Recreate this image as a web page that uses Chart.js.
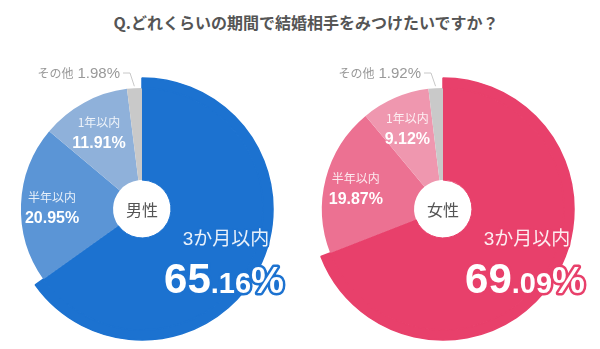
<!DOCTYPE html>
<html>
<head>
<meta charset="utf-8">
<script src="https://cdn.jsdelivr.net/npm/chart.js@4"></script>
<style>
  body { margin: 0; background: #fff; width: 600px; height: 349px; overflow: hidden; position: relative; }
  .title { position: absolute; left: 0; top: 10px; width: 612px; text-align: center; font: bold 16px "Noto Sans CJK JP", sans-serif; color: #555; }
  canvas { position: absolute; top: 49px; }
  #male { left: 0; }
  #female { left: 300px; }
</style>
</head>
<body>
<div class="title">Q.どれくらいの期間で結婚相手をみつけたいですか？</div>
<canvas id="male" width="300" height="300"></canvas>
<canvas id="female" width="300" height="300"></canvas>
<script>
const categories = ['3か月以内', '半年以内', '1年以内', 'その他'];
const maleValues = [65.16, 20.95, 11.91, 1.98];
const femaleValues = [69.09, 19.87, 9.12, 1.92];
const maleColors = ['#1C72D0', '#5B95D6', '#8FB1DA', '#C9C9C9'];
const femaleColors = ['#E8406B', '#EC7192', '#EF97AF', '#C9C9C9'];

const JP = '"Noto Sans CJK JP", sans-serif';
const NUM = '"Liberation Sans", "Noto Sans CJK JP", sans-serif';

// labels drawn on top of the slices
const labelPlugin = {
  id: 'sliceLabels',
  afterDatasetsDraw(chart, args, opts) {
    const ctx = chart.ctx;
    const arcs = chart.getDatasetMeta(1).data;
    const values = chart.data.datasets[1].data;
    const cx = arcs[0].x, cy = arcs[0].y;
    const main = opts.mainColor;
    ctx.save();
    ctx.textAlign = 'center';
    ctx.textBaseline = 'alphabetic';

    // small slices (半年 / 1年)
    [1, 2].forEach(i => {
      const a = arcs[i];
      const mid = (a.startAngle + a.endAngle) / 2;
      const x = cx + Math.cos(mid) * 90, y = cy + Math.sin(mid) * 90;
      ctx.fillStyle = 'rgba(255,255,255,0.85)';
      ctx.font = '12px ' + JP;
      ctx.fillText(categories[i], x, y - 3);
      ctx.fillStyle = '#fff';
      ctx.font = 'bold 16px ' + NUM;
      ctx.fillText(values[i].toFixed(2) + '%', x, y + 18);
    });

    // main slice label with outline
    ctx.lineJoin = 'round';
    ctx.strokeStyle = main;
    ctx.lineWidth = 4;
    ctx.font = '19px ' + NUM;
    ctx.strokeText(categories[0], cx + 84, cy + 36);
    ctx.fillStyle = 'rgba(255,255,255,0.9)';
    ctx.fillText(categories[0], cx + 84, cy + 36);

    const parts = values[0].toFixed(2).split('.');
    const pieces = [
      { t: parts[0], f: 'bold 42px ' + NUM },
      { t: '.' + parts[1], f: 'bold 29px ' + NUM },
      { t: '%', f: 'bold 37px ' + NUM }
    ];
    let total = 0;
    pieces.forEach(p => { ctx.font = p.f; p.w = ctx.measureText(p.t).width; total += p.w; });
    let x = cx + 82 - total / 2;
    ctx.textAlign = 'left';
    ctx.lineWidth = 5;
    pieces.forEach(p => {
      ctx.font = p.f;
      ctx.strokeText(p.t, x, cy + 84);
      ctx.fillStyle = '#fff';
      ctx.fillText(p.t, x, cy + 84);
      x += p.w;
    });

    // その他 with leader line
    const o = arcs[3];
    const om = (o.startAngle + o.endAngle) / 2;
    ctx.strokeStyle = '#c8c8c8';
    ctx.lineWidth = 1;
    ctx.beginPath();
    ctx.moveTo(cx - 19, cy - 136);
    ctx.lineTo(cx - 12, cy - 136);
    ctx.lineTo(cx + Math.cos(om) * 123, cy + Math.sin(om) * 123);
    ctx.stroke();
    ctx.textAlign = 'right';
    ctx.fillStyle = '#999';
    ctx.font = '15px ' + NUM;
    const pct = values[3].toFixed(2) + '%';
    ctx.fillText(pct, cx - 22, cy - 131);
    const pw = ctx.measureText(pct).width;
    ctx.font = '12px ' + JP;
    ctx.fillText(categories[3], cx - 26 - pw, cy - 131);

    // center text
    ctx.textAlign = 'center';
    ctx.textBaseline = 'middle';
    ctx.fillStyle = '#555';
    ctx.font = '16px ' + JP;
    ctx.fillText(opts.center, cx, cy + 1);
    ctx.restore();
  }
};

function makePie(id, values, colors, center, padLeft) {
  new Chart(document.getElementById(id), {
    type: 'doughnut',
    data: {
      labels: categories,
      datasets: [
        {
          // outer ring: only the main slice reaches the full radius
          data: values,
          backgroundColor: colors.map((c, i) => i === 0 ? c : 'rgba(0,0,0,0)'),
          borderColor: colors[0],
          borderWidth: [1.5, 0, 0, 0], hoverBorderWidth: 0, weight: 10
        },
        {
          data: values,
          backgroundColor: colors,
          borderColor: colors[0],
          borderWidth: [1, 0, 0, 0], hoverBorderWidth: 0, weight: 93
        }
      ]
    },
    options: {
      responsive: false,
      animation: false,
      radius: 131,
      cutout: 29,
      layout: { padding: { left: padLeft, right: 36 - padLeft, top: 28, bottom: 8 } },
      plugins: {
        legend: { display: false },
        tooltip: { enabled: false },
        sliceLabels: { mainColor: colors[0], center: center }
      },
      events: []
    },
    plugins: [labelPlugin]
  });
}

makePie('male', maleValues, maleColors, '男性', 10);
makePie('female', femaleValues, femaleColors, '女性', 11);
</script>
</body>
</html>
